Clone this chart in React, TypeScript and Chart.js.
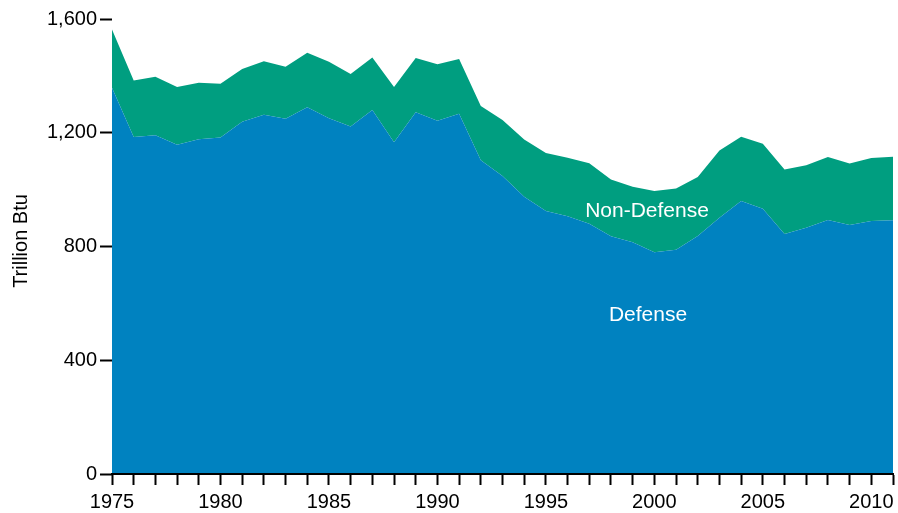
import React, { useEffect, useRef } from "react";
import { Chart, registerables } from "chart.js";

Chart.register(...registerables);

const years: number[] = [
  1975, 1976, 1977, 1978, 1979, 1980, 1981, 1982, 1983, 1984, 1985, 1986, 1987,
  1988, 1989, 1990, 1991, 1992, 1993, 1994, 1995, 1996, 1997, 1998, 1999, 2000,
  2001, 2002, 2003, 2004, 2005, 2006, 2007, 2008, 2009, 2010, 2011,
];
const defense: number[] = [
  1358, 1185, 1191, 1158, 1177, 1183, 1239, 1263, 1249, 1290, 1251, 1222, 1280,
  1167, 1272, 1242, 1267, 1103, 1048, 975, 925, 906, 880, 836, 815, 780,
  789, 837, 901, 960, 933, 844, 866, 893, 876, 890, 892,
];
const nonDefense: number[] = [
  205, 199, 206, 203, 199, 189, 185, 188, 183, 191, 199, 185, 185,
  194, 191, 199, 192, 191, 197, 201, 204, 206, 213, 200, 195, 215,
  215, 207, 237, 226, 228, 227, 220, 222, 216, 221, 224,
];
const yTicks: number[] = [0, 400, 800, 1200, 1600];
const seriesNames: string[] = ["Defense", "Non-Defense"];
const yTitle = "Trillion Btu";

const FONT = "'Liberation Sans', Arial, Helvetica, sans-serif";
const BLUE = "rgb(0,130,192)";
const GREEN = "rgb(0,158,128)";

const labelPlugin = {
  id: "areaLabels",
  afterDatasetsDraw(chart: any) {
    const ctx = chart.ctx;
    ctx.save();
    ctx.fillStyle = "#ffffff";
    ctx.font = `21px ${FONT}`;
    ctx.textAlign = "center";
    ctx.textBaseline = "middle";
    ctx.fillText(seriesNames[1], 647, 211);
    ctx.fillText(seriesNames[0], 648, 315);
    // y title
    ctx.fillStyle = "#000000";
    ctx.font = `20px ${FONT}`;
    ctx.translate(21, 241);
    ctx.rotate(-Math.PI / 2);
    ctx.fillText(yTitle, 0, 0);
    ctx.restore();
  },
};

export default function App() {
  const ref = useRef<HTMLCanvasElement | null>(null);

  useEffect(() => {
    document.body.style.margin = "0";
    const canvas = ref.current;
    if (!canvas) return;
    const chart = new Chart(canvas, {
      type: "line",
      data: {
        datasets: [
          {
            label: seriesNames[0],
            data: years.map((y, i) => ({ x: y, y: defense[i] })),
            backgroundColor: BLUE,
            borderColor: BLUE,
            borderWidth: 0,
            pointRadius: 0,
            fill: "origin",
            tension: 0,
          },
          {
            label: seriesNames[1],
            data: years.map((y, i) => ({ x: y, y: nonDefense[i] })),
            backgroundColor: GREEN,
            borderColor: GREEN,
            borderWidth: 0,
            pointRadius: 0,
            fill: "-1",
            tension: 0,
          },
        ],
      },
      options: {
        animation: false,
        responsive: false,
        devicePixelRatio: 1,
        layout: { padding: { top: 19, right: 1, left: 0, bottom: 0 } },
        plugins: {
          legend: { display: false },
          tooltip: { enabled: false },
        },
        scales: {
          x: {
            type: "linear",
            min: years[0],
            max: years[years.length - 1],
            afterBuildTicks: (scale: any) => {
              scale.ticks = years.map((v) => ({ value: v }));
            },
            afterFit: (scale: any) => {
              scale.height = 39;
            },
            ticks: {
              autoSkip: false,
              maxRotation: 0,
              color: "#000",
              padding: 5,
              font: { family: FONT, size: 20 },
              callback: (v: any) => (Number(v) % 5 === 0 ? String(v) : ""),
            },
            grid: {
              drawOnChartArea: false,
              drawTicks: true,
              tickLength: 11,
              tickWidth: 2,
              tickColor: "#000",
            },
            border: { display: true, color: "#000", width: 2, z: 1 },
          },
          y: {
            stacked: true,
            min: 0,
            max: 1600,
            afterBuildTicks: (scale: any) => {
              scale.ticks = yTicks.map((v) => ({ value: v }));
            },
            afterFit: (scale: any) => {
              scale.width = 112;
            },
            ticks: {
              color: "#000",
              padding: 3,
              font: { family: FONT, size: 20 },
              callback: (v: any) => Number(v).toLocaleString("en-US"),
            },
            grid: {
              drawOnChartArea: false,
              drawTicks: true,
              tickLength: 12,
              tickWidth: 2,
              tickColor: "#000",
            },
            border: { display: false },
          },
        },
      },
      plugins: [labelPlugin],
    });
    return () => chart.destroy();
  }, []);

  return (
    <div style={{ width: 898, height: 513 }}>
      <canvas ref={ref} width={898} height={513} style={{ display: "block" }} />
    </div>
  );
}
